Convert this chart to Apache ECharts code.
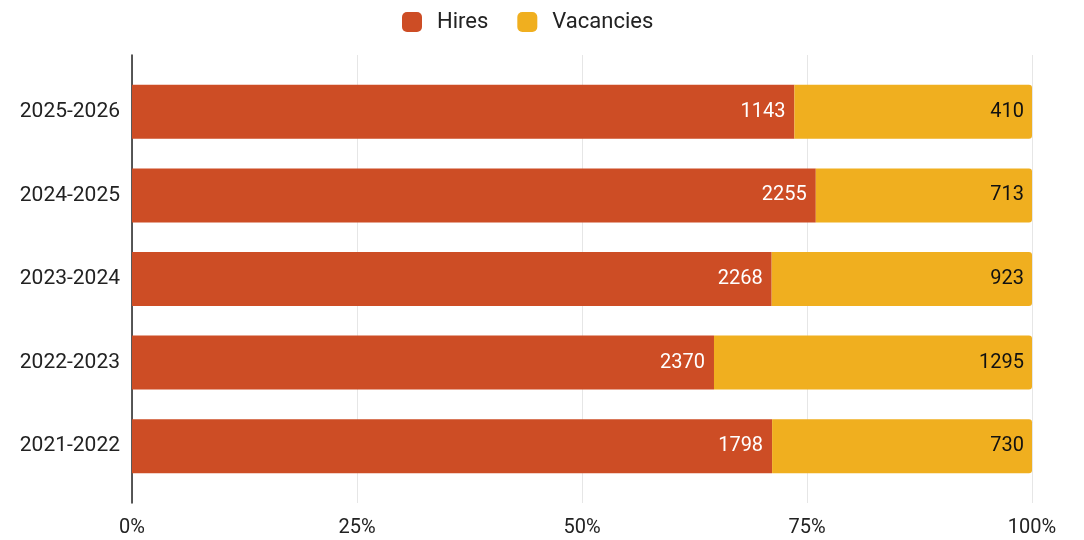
<!DOCTYPE html>
<html lang="en">
<head>
    <meta charset="UTF-8">
    <title>Hires vs Vacancies</title>
    <script src="https://cdn.jsdelivr.net/npm/echarts@6/dist/echarts.min.js"></script>
</head>
<body style="margin:0;">
<div id="main" style="width:1084px;height:540px;"></div>
<script type="text/javascript">
    // bottom to top
    const years = ['2021-2022', '2022-2023', '2023-2024', '2024-2025', '2025-2026'];
    const hires = [1798, 2370, 2268, 2255, 1143];
    const vacancies = [730, 1295, 923, 713, 410];
    const ticks = [0, 25, 50, 75, 100];

    const font = 'Roboto';
    const hiresPct = hires.map((h, i) => h / (h + vacancies[i]) * 100);
    const vacPct = vacancies.map((v, i) => v / (hires[i] + v) * 100);

    let myChart = echarts.init(document.getElementById('main'));
    const option = {
        color: ['#cd4d25', '#f0af1f'],
        textStyle: { fontFamily: font },
        legend: {
            top: 6,
            left: 397,
            itemWidth: 20,
            itemHeight: 20,
            itemGap: 29,
            icon: 'roundRect',
            textStyle: { fontSize: 22, color: '#222', fontFamily: font, padding: [0, 0, 0, 10] },
            data: ['Hires', 'Vacancies']
        },
        grid: [
            { left: 132, right: 52, top: 70, bottom: 52 },
            { left: 132, right: 52, top: 55, bottom: 37 }
        ],
        xAxis: [
            { gridIndex: 0, type: 'value', min: 0, max: 100, show: false },
            {
                gridIndex: 1, type: 'value', min: 0, max: 100, interval: 25,
                axisLine: { show: false },
                axisTick: { show: false },
                splitLine: { lineStyle: { color: '#e6e6e6' } },
                axisLabel: {
                    fontSize: 20, color: '#222', margin: 15,
                    formatter: v => ticks.includes(v) ? v + '%' : ''
                }
            }
        ],
        yAxis: [
            {
                gridIndex: 0, type: 'category', data: years,
                axisLine: { show: false },
                axisTick: { show: false },
                axisLabel: { fontSize: 21, color: '#222', margin: 12 }
            },
            {
                gridIndex: 1, type: 'value',
                axisLine: { show: true, lineStyle: { color: '#222', width: 1.5 } },
                axisTick: { show: false },
                axisLabel: { show: false },
                splitLine: { show: false }
            }
        ],
        series: [
            {
                name: 'Hires', type: 'bar', stack: 'total',
                xAxisIndex: 0, yAxisIndex: 0,
                barWidth: 54,
                data: hiresPct,
                label: {
                    show: true, position: 'insideRight', distance: 9,
                    color: '#fff', fontSize: 20,
                    formatter: p => hires[p.dataIndex]
                }
            },
            {
                name: 'Vacancies', type: 'bar', stack: 'total',
                xAxisIndex: 0, yAxisIndex: 0,
                barWidth: 54,
                data: vacPct,
                itemStyle: { borderRadius: [0, 3, 3, 0] },
                label: {
                    show: true, position: 'insideRight', distance: 8,
                    color: '#111', fontSize: 20,
                    formatter: p => vacancies[p.dataIndex]
                }
            }
        ]
    };
    myChart.setOption(option);
</script>
</body>
</html>
